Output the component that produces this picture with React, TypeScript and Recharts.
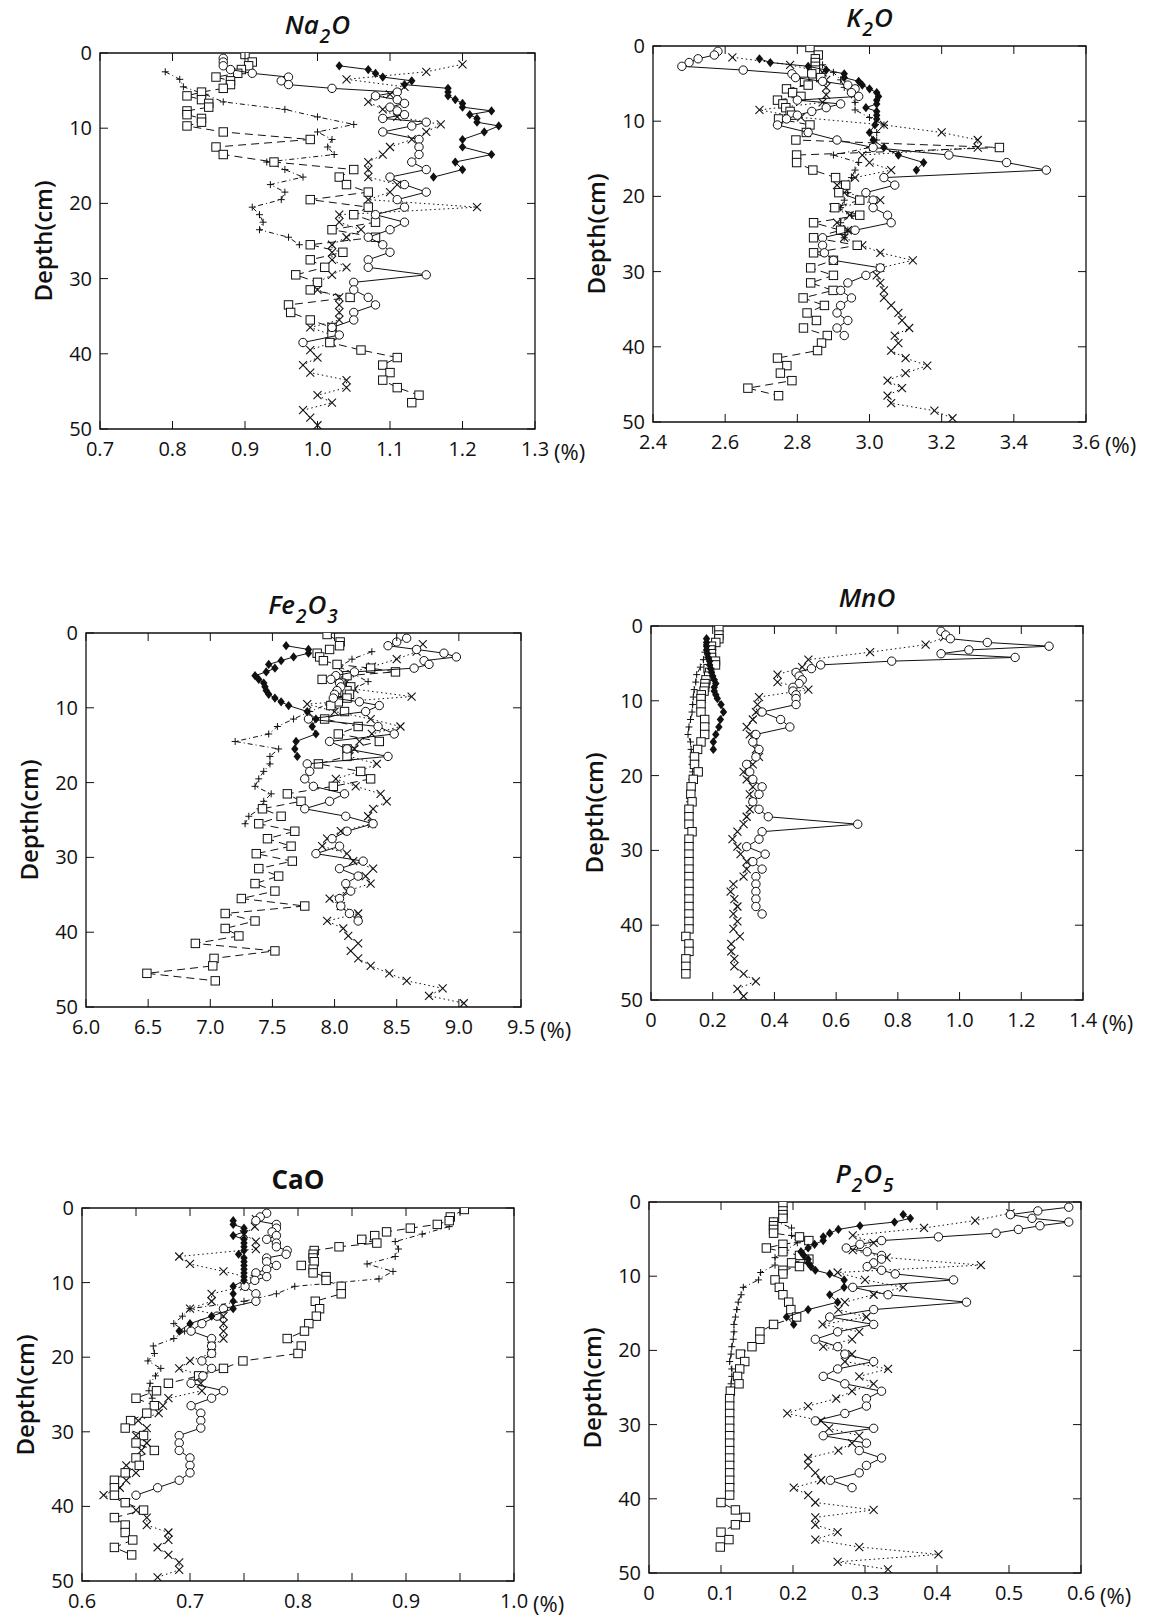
import React from 'react';
import { ScatterChart, Scatter, XAxis, YAxis, ReferenceArea } from 'recharts';

// sampling depths (cm) for the five profiles
const A_DEPTH = [0.7, 1.2, 1.7, 2.2, 2.7, 3.2, 3.7, 4.2, 4.7, 5.2, 5.7, 6.2, 6.7, 7.2, 7.7, 8.2, 8.7, 9.2, 9.7,
  10.5, 11.5, 12.5, 13.5, 14.5, 15.5, 16.5, 17.5, 18.5, 19.5, 20.5, 21.5, 22.5, 23.5, 24.5, 25.5, 26.5, 27.5, 28.5, 29.5,
  30.5, 31.5, 32.5, 33.5, 34.5, 35.5, 36.5, 37.5, 38.5];
const B_DEPTH = [1.7, 2.2, 2.7, 3.2, 3.7, 4.2, 4.7, 5.2, 5.7, 6.2, 6.7, 7.2, 7.7, 8.2, 8.7, 9.2, 9.7,
  10.5, 11.5, 12.5, 13.5, 14.5, 15.5, 16.5];
const C_DEPTH = [0.2, 1.2, 1.7, 2.2, 2.7, 3.2, 3.7, 4.2, 4.7, 5.2, 5.7, 6.2, 6.7, 7.2, 7.7, 8.2, 8.7, 9.2, 9.7,
  10.5, 11.5, 12.5, 13.5, 14.5, 15.5, 16.5, 17.5, 18.5, 19.5, 20.5, 21.5, 22.5, 23.5, 24.5, 25.5, 26.5, 27.5, 28.5, 29.5,
  30.5, 31.5, 32.5, 33.5, 34.5, 35.5, 36.5, 37.5, 38.5, 39.5, 40.5, 41.5, 42.5, 43.5, 44.5, 45.5, 46.5];
const D_DEPTH = [1.5, 2.5, 3.5, 4.5, 5.5, 6.5, 7.5, 8.5, 9.5, 10.5, 11.5, 12.5, 13.5, 14.5, 15.5, 16.5, 17.5, 18.5, 19.5,
  20.5, 21.5, 22.5, 23.5, 24.5, 25.5, 26.5, 27.5, 28.5, 29.5, 30.5, 31.5, 32.5, 33.5, 34.5, 35.5, 36.5, 37.5, 38.5, 39.5,
  40.5, 41.5, 42.5, 43.5, 44.5, 45.5, 46.5, 47.5, 48.5, 49.5];
const E_DEPTH = [2.5, 3.5, 4.5, 5.5, 6.5, 7.5, 8.5, 9.5, 10.5, 11.5, 12.5, 13.5, 14.5, 15.5, 16.5, 17.5, 18.5, 19.5,
  20.5, 21.5, 22.5, 23.5, 24.5, 25.5];

const DEPTH_TICKS = [0, 10, 20, 30, 40, 50];

// Na2O (%)
const NA2O_A = [0.87, 0.87, 0.87, 0.88, 0.91, 0.96, 0.95, 0.96, 1.02, 1.11, 1.08, 1.11, 1.12, 1.10, 1.11, 1.12, 1.09, 1.15, 1.13,
  1.09, 1.14, 1.14, 1.14, 1.13, 1.15, 1.10, 1.12, 1.15, 1.11, 1.12, 1.08, 1.12, 1.10, 1.07, 1.09, 1.10, 1.07, 1.07, 1.15,
  1.05, 1.05, 1.07, 1.08, 1.05, 1.05, 1.02, 1.03, 0.98];
const NA2O_B = [1.03, 1.07, 1.08, 1.09, 1.13, 1.12, 1.18, 1.18, 1.18, 1.19, 1.20, 1.20, 1.24, 1.21, 1.22, 1.22, 1.25,
  1.23, 1.20, 1.20, 1.24, 1.19, 1.20, 1.16];
const NA2O_C = [0.90, 0.91, 0.905, 0.895, 0.89, 0.86, 0.88, 0.88, 0.87, 0.84, 0.82, 0.84, 0.85, 0.85, 0.82, 0.82, 0.84, 0.84, 0.82,
  0.87, 0.99, 0.86, 0.87, 0.94, 1.05, 1.03, 1.04, 1.07, 0.99, 1.07, 1.05, 1.08, 1.02, 1.08, 0.99, 1.035, 0.99, 1.01, 0.97,
  1.00, 0.99, 1.045, 0.96, 0.963, 0.99, 1.02, 1.02, 1.017, 1.06, 1.11, 1.09, 1.10, 1.09, 1.11, 1.14, 1.13];
const NA2O_D = [1.20, 1.15, 1.04, 1.12, 1.10, 1.07, 1.09, 1.11, 1.17, 1.15, 1.13, 1.10, 1.09, 1.07, 1.07, 1.07, 1.11, 1.10, 1.07,
  1.22, 1.03, 1.03, 1.06, 1.04, 1.02, 1.02, 1.02, 1.04, 1.02, 1.00, 1.00, 1.03, 1.03, 1.03, 1.03, 0.99, 1.02, 1.02, 0.99,
  1.00, 0.98, 0.99, 1.04, 1.04, 1.00, 1.02, 0.98, 0.99, 1.00];
const NA2O_E = [0.79, 0.81, 0.815, 0.845, 0.87, 0.955, 1.00, 1.05, 1.00, 1.02, 1.014, 1.023, 0.93, 0.955, 0.98, 0.935, 0.955, 0.95,
  0.91, 0.92, 0.925, 0.92, 0.96, 0.975];

// K2O (%)
const K2O_A = [2.58, 2.57, 2.525, 2.50, 2.48, 2.65, 2.785, 2.795, 2.87, 2.94, 2.96, 2.95, 2.97, 2.80, 2.92, 2.88, 2.84, 2.80, 2.77,
  2.745, 2.83, 2.91, 3.01, 3.22, 3.38, 3.49, 3.04, 3.07, 2.99, 3.01, 3.01, 3.05, 3.06, 2.96, 2.87, 2.87, 2.875, 2.90, 3.03,
  2.99, 2.94, 2.92, 2.95, 2.92, 2.91, 2.94, 2.91, 2.93];
const K2O_B = [2.695, 2.725, 2.83, 2.88, 2.93, 2.93, 2.97, 2.98, 3.00, 3.02, 3.025, 3.02, 3.02, 2.99, 3.02, 3.02, 3.02,
  3.015, 3.00, 3.01, 3.04, 3.08, 3.15, 3.13];
const K2O_C = [2.835, 2.858, 2.85, 2.85, 2.85, 2.85, 2.84, 2.865, 2.82, 2.83, 2.77, 2.787, 2.81, 2.745, 2.76, 2.768, 2.78, 2.784, 2.748,
  2.835, 2.825, 2.796, 3.36, 2.798, 2.798, 2.843, 2.906, 2.934, 2.915, 2.973, 2.904, 2.973, 2.845, 2.92, 2.845, 2.966, 2.845, 2.90, 2.837,
  2.90, 2.837, 2.899, 2.816, 2.875, 2.827, 2.853, 2.817, 2.883, 2.867, 2.856, 2.745, 2.771, 2.753, 2.785, 2.663, 2.748];
const K2O_D = [2.62, 2.78, 2.87, 2.88, 2.88, 2.88, 2.87, 2.695, 2.81, 3.04, 3.20, 3.30, 3.30, 2.98, 3.00, 3.06, 2.96, 2.91, 2.93,
  3.03, 2.90, 2.945, 2.91, 2.94, 2.93, 2.98, 3.03, 3.12, 3.03, 3.02, 3.03, 3.04, 3.04, 3.06, 3.08, 3.09, 3.11, 3.07, 3.08,
  3.06, 3.10, 3.16, 3.10, 3.05, 3.09, 3.05, 3.06, 3.18, 3.23];
const K2O_E = [2.87, 2.90, 2.92, 2.93, 2.95, 2.96, 2.96, 3.00, 3.04, 3.02, 3.02, 3.00, 2.90, 2.97, 2.96, 2.95, 2.93, 2.94,
  2.93, 2.92, 2.95, 2.92, 2.94, 2.93];

// Fe2O3 (%)
const FE_A = [8.58, 8.50, 8.43, 8.66, 8.88, 8.98, 8.72, 8.76, 8.64, 8.16, 8.01, 7.97, 8.04, 8.05, 8.02, 8.00, 7.99, 8.20, 8.36,
  8.25, 7.79, 8.35, 8.48, 7.96, 8.10, 8.43, 7.78, 7.80, 7.76, 7.83, 8.08, 7.96, 7.76, 8.09, 8.31, 8.10, 7.98, 8.04, 7.85,
  8.23, 8.04, 8.19, 8.09, 8.13, 8.04, 8.05, 8.12, 8.19];
const FE_B = [7.61, 7.79, 7.79, 7.67, 7.57, 7.47, 7.52, 7.45, 7.36, 7.39, 7.43, 7.44, 7.45, 7.47, 7.52, 7.57, 7.63,
  7.78, 7.85, 7.82, 7.85, 7.69, 7.68, 7.70];
const FE_C = [7.94, 8.045, 8.04, 7.96, 7.86, 7.88, 7.91, 8.02, 8.29, 8.49, 8.10, 7.90, 8.05, 8.13, 8.10, 8.12, 8.10, 8.03, 7.97,
  8.08, 7.92, 8.19, 8.03, 8.36, 8.10, 8.10, 7.87, 8.21, 8.29, 7.99, 7.62, 7.73, 7.42, 7.57, 7.39, 7.68, 7.46, 7.65, 7.37,
  7.66, 7.39, 7.55, 7.36, 7.52, 7.25, 7.76, 7.12, 7.36, 7.12, 7.23, 6.88, 7.52, 7.03, 7.02, 6.49, 7.04];
const FE_D = [8.71, 8.66, 8.50, 8.30, 8.08, 8.10, 8.16, 8.62, 7.78, 8.00, 8.29, 8.53, 8.30, 8.20, 8.16, 8.12, 8.34, 8.20, 8.01,
  8.17, 8.37, 8.42, 8.31, 8.27, 8.30, 8.05, 7.94, 7.90, 8.10, 8.15, 8.31, 8.25, 8.29, 8.10, 7.96, 8.05, 8.19, 7.94, 8.07,
  8.11, 8.19, 8.13, 8.19, 8.29, 8.44, 8.58, 8.87, 8.76, 9.04];
const FE_E = [8.30, 8.14, 8.04, 8.15, 8.27, 8.15, 8.05, 7.95, 7.80, 7.67, 7.54, 7.47, 7.20, 7.55, 7.48, 7.48, 7.43, 7.39,
  7.36, 7.49, 7.43, 7.40, 7.31, 7.28];

// MnO (%)
const MN_A = [0.94, 0.955, 0.97, 1.09, 1.29, 1.03, 0.94, 1.18, 0.78, 0.55, 0.52, 0.47, 0.48, 0.49, 0.48, 0.46, 0.46, 0.47, 0.47,
  0.47, 0.36, 0.42, 0.45, 0.34, 0.33, 0.35, 0.34, 0.31, 0.32, 0.33, 0.36, 0.35, 0.33, 0.35, 0.38, 0.67, 0.36, 0.35, 0.31,
  0.37, 0.33, 0.36, 0.34, 0.34, 0.34, 0.34, 0.34, 0.36];
const MN_B = [0.18, 0.18, 0.18, 0.18, 0.183, 0.185, 0.19, 0.19, 0.193, 0.196, 0.20, 0.205, 0.21, 0.205, 0.205, 0.21, 0.215,
  0.227, 0.235, 0.225, 0.22, 0.21, 0.202, 0.202];
const MN_C = [0.22, 0.22, 0.22, 0.21, 0.196, 0.194, 0.196, 0.196, 0.209, 0.209, 0.185, 0.19, 0.187, 0.178, 0.175, 0.174, 0.172, 0.163, 0.162,
  0.162, 0.162, 0.174, 0.174, 0.174, 0.162, 0.151, 0.141, 0.141, 0.153, 0.137, 0.13, 0.129, 0.133, 0.123, 0.123, 0.123, 0.133, 0.123, 0.123,
  0.123, 0.123, 0.123, 0.123, 0.123, 0.123, 0.123, 0.123, 0.123, 0.123, 0.123, 0.113, 0.123, 0.123, 0.113, 0.113, 0.113];
const MN_D = [0.95, 0.89, 0.71, 0.51, 0.49, 0.41, 0.41, 0.51, 0.35, 0.345, 0.34, 0.33, 0.31, 0.32, 0.335, 0.34, 0.35, 0.33, 0.30,
  0.31, 0.33, 0.32, 0.33, 0.32, 0.31, 0.30, 0.28, 0.264, 0.28, 0.29, 0.31, 0.31, 0.30, 0.267, 0.258, 0.27, 0.28, 0.267, 0.28,
  0.267, 0.288, 0.26, 0.26, 0.27, 0.27, 0.30, 0.34, 0.28, 0.30];
const MN_E = [0.18, 0.175, 0.17, 0.16, 0.148, 0.145, 0.14, 0.137, 0.135, 0.133, 0.128, 0.123, 0.12, 0.128, 0.13, 0.133, 0.133, 0.135,
  0.132, 0.129, 0.127, 0.125, 0.124, 0.123];

// CaO (%)
const CA_A = [0.771, 0.765, 0.761, 0.78, 0.78, 0.776, 0.78, 0.771, 0.78, 0.78, 0.79, 0.789, 0.771, 0.771, 0.78, 0.771, 0.761, 0.771, 0.76,
  0.751, 0.761, 0.761, 0.731, 0.725, 0.711, 0.701, 0.72, 0.72, 0.72, 0.711, 0.72, 0.712, 0.701, 0.731, 0.72, 0.701, 0.71, 0.71, 0.71,
  0.69, 0.69, 0.69, 0.70, 0.70, 0.70, 0.69, 0.67, 0.65];
const CA_B = [0.74, 0.74, 0.75, 0.75, 0.74, 0.75, 0.75, 0.75, 0.75, 0.745, 0.75, 0.75, 0.75, 0.75, 0.75, 0.75, 0.75,
  0.74, 0.74, 0.74, 0.74, 0.72, 0.70, 0.69];
const CA_C = [0.954, 0.941, 0.94, 0.929, 0.904, 0.882, 0.871, 0.859, 0.873, 0.838, 0.815, 0.814, 0.814, 0.815, 0.803, 0.814, 0.814, 0.826, 0.826,
  0.84, 0.84, 0.816, 0.82, 0.817, 0.81, 0.806, 0.79, 0.803, 0.80, 0.749, 0.731, 0.708, 0.68, 0.669, 0.65, 0.667, 0.66, 0.645, 0.64,
  0.657, 0.65, 0.667, 0.65, 0.653, 0.64, 0.63, 0.63, 0.63, 0.64, 0.657, 0.63, 0.64, 0.64, 0.647, 0.63, 0.646];
const CA_D = [0.761, 0.76, 0.75, 0.761, 0.761, 0.69, 0.70, 0.731, 0.76, 0.75, 0.72, 0.72, 0.70, 0.731, 0.731, 0.731, 0.731, 0.72, 0.72,
  0.70, 0.69, 0.711, 0.71, 0.711, 0.68, 0.675, 0.671, 0.652, 0.66, 0.65, 0.66, 0.655, 0.65, 0.641, 0.65, 0.641, 0.635, 0.62, 0.641,
  0.65, 0.66, 0.66, 0.68, 0.68, 0.67, 0.68, 0.69, 0.69, 0.67];
const CA_E = [0.94, 0.915, 0.89, 0.893, 0.89, 0.864, 0.888, 0.875, 0.797, 0.78, 0.75, 0.70, 0.693, 0.685, 0.695, 0.685, 0.666, 0.667,
  0.661, 0.673, 0.668, 0.663, 0.662, 0.665];

// P2O5 (%)
const P_A = [0.583, 0.54, 0.502, 0.532, 0.583, 0.543, 0.513, 0.482, 0.402, 0.323, 0.293, 0.274, 0.303, 0.323, 0.323, 0.312, 0.303, 0.323, 0.342,
  0.423, 0.283, 0.332, 0.441, 0.312, 0.251, 0.312, 0.262, 0.231, 0.262, 0.272, 0.312, 0.262, 0.242, 0.272, 0.323, 0.302, 0.302, 0.272, 0.231,
  0.312, 0.242, 0.302, 0.292, 0.323, 0.302, 0.292, 0.252, 0.282];
const P_B = [0.353, 0.363, 0.341, 0.293, 0.263, 0.251, 0.242, 0.242, 0.23, 0.221, 0.211, 0.215, 0.221, 0.221, 0.225, 0.231, 0.251,
  0.271, 0.271, 0.251, 0.262, 0.221, 0.191, 0.201];
const P_C = [0.186, 0.186, 0.186, 0.186, 0.173, 0.173, 0.173, 0.173, 0.209, 0.222, 0.186, 0.163, 0.186, 0.209, 0.222, 0.198, 0.209, 0.186, 0.186,
  0.175, 0.181, 0.186, 0.194, 0.197, 0.205, 0.173, 0.154, 0.154, 0.143, 0.127, 0.133, 0.126, 0.123, 0.125, 0.113, 0.112, 0.112, 0.112, 0.112,
  0.112, 0.112, 0.112, 0.112, 0.112, 0.112, 0.112, 0.112, 0.112, 0.112, 0.10, 0.12, 0.134, 0.12, 0.10, 0.111, 0.099];
const P_D = [0.502, 0.453, 0.382, 0.283, 0.312, 0.283, 0.33, 0.461, 0.262, 0.30, 0.353, 0.312, 0.272, 0.263, 0.302, 0.241, 0.292, 0.282, 0.242,
  0.282, 0.272, 0.332, 0.292, 0.312, 0.282, 0.26, 0.221, 0.192, 0.239, 0.25, 0.292, 0.282, 0.263, 0.221, 0.221, 0.231, 0.239, 0.201, 0.221,
  0.231, 0.312, 0.231, 0.231, 0.262, 0.231, 0.292, 0.402, 0.262, 0.332];
const P_E = [0.173, 0.198, 0.198, 0.206, 0.19, 0.175, 0.175, 0.155, 0.152, 0.131, 0.128, 0.124, 0.122, 0.12, 0.118, 0.118, 0.117, 0.115,
  0.114, 0.112, 0.115, 0.115, 0.114, 0.112];

// x-axis ticks
const NA2O_TICKS = [0.7, 0.8, 0.9, 1.0, 1.1, 1.2, 1.3];
const K2O_TICKS = [2.4, 2.6, 2.8, 3.0, 3.2, 3.4, 3.6];
const FE_TICKS = [6.0, 6.5, 7.0, 7.5, 8.0, 8.5, 9.0, 9.5];
const MN_TICKS = [0, 0.2, 0.4, 0.6, 0.8, 1.0, 1.2, 1.4];
const CA_TICKS = [0.6, 0.65, 0.7, 0.75, 0.8, 0.85, 0.9, 0.95, 1.0];
const CA_LABELS = [0.6, 0.7, 0.8, 0.9, 1.0];
const P_TICKS = [0, 0.1, 0.2, 0.3, 0.4, 0.5, 0.6];

const FONT = '"Open Sans", "DejaVu Sans", sans-serif';
const INK = '#111';
const TICK_LEN = 8;
const ML = 90, MT = 20, MR = 80, MB = 50;
const Y_W = 50, X_H = 30;

type Mark = 'circle' | 'diamond' | 'square' | 'cross' | 'plus';

function Marker({ cx, cy, mark }: { cx: number; cy: number; mark: Mark }) {
  if (cx == null || cy == null) return null;
  switch (mark) {
    case 'circle':
      return <circle cx={cx} cy={cy} r={4.2} fill="#fff" stroke={INK} strokeWidth={1} />;
    case 'diamond':
      return <polygon points={`${cx},${cy - 4.6} ${cx + 3.7},${cy} ${cx},${cy + 4.6} ${cx - 3.7},${cy}`} fill={INK} />;
    case 'square':
      return <rect x={cx - 4.2} y={cy - 4.2} width={8.4} height={8.4} fill="#fff" stroke={INK} strokeWidth={1} />;
    case 'cross':
      return (
        <g stroke={INK} strokeWidth={1.1}>
          <line x1={cx - 4} y1={cy - 4} x2={cx + 4} y2={cy + 4} />
          <line x1={cx - 4} y1={cy + 4} x2={cx + 4} y2={cy - 4} />
        </g>
      );
    default:
      return (
        <g stroke={INK} strokeWidth={1}>
          <line x1={cx - 3.5} y1={cy} x2={cx + 3.5} y2={cy} />
          <line x1={cx} y1={cy - 3.5} x2={cx} y2={cy + 3.5} />
        </g>
      );
  }
}

const fmtTick = (v: number) => (v === 0 ? '0' : v.toFixed(1));

interface PanelProps {
  title: React.ReactNode;
  italic?: boolean;
  left: number;
  top: number;
  w: number;
  h: number;
  ticks: number[];
  labels?: number[];
  series: { a: number[]; b: number[]; c: number[]; d: number[]; e: number[] };
}

function Panel({ title, italic = true, left, top, w, h, ticks, labels, series }: PanelProps) {
  const domain: [number, number] = [ticks[0], ticks[ticks.length - 1]];
  const shown = labels ?? ticks;
  const rows = (depth: number[], vals: number[]) => depth.map((d, i) => ({ x: vals[i], y: d }));

  const profiles: { key: string; pts: { x: number; y: number }[]; mark: Mark; dash?: string }[] = [
    { key: 'e', pts: rows(E_DEPTH, series.e), mark: 'plus', dash: '5 3 1 3' },
    { key: 'd', pts: rows(D_DEPTH, series.d), mark: 'cross', dash: '1.5 3' },
    { key: 'c', pts: rows(C_DEPTH, series.c), mark: 'square', dash: '8 5' },
    { key: 'a', pts: rows(A_DEPTH, series.a), mark: 'circle' },
    { key: 'b', pts: rows(B_DEPTH, series.b), mark: 'diamond' },
  ];

  const xTick = (p: any) => {
    const { x, y, payload } = p;
    const v = payload.value as number;
    const lab = shown.some((s) => Math.abs(s - v) < 1e-9);
    return (
      <g>
        <line x1={x} y1={y} x2={x} y2={y - TICK_LEN} stroke={INK} strokeWidth={1} />
        <line x1={x} y1={y - h} x2={x} y2={y - h + TICK_LEN} stroke={INK} strokeWidth={1} />
        {lab && (
          <text x={x} y={y + 27} textAnchor="middle" fontSize={20} fontFamily={FONT} fill={INK}>
            {fmtTick(v)}
          </text>
        )}
      </g>
    );
  };

  const yTick = (p: any) => {
    const { x, y, payload } = p;
    return (
      <g>
        <line x1={x} y1={y} x2={x + TICK_LEN} y2={y} stroke={INK} strokeWidth={1} />
        <line x1={x + w} y1={y} x2={x + w - TICK_LEN} y2={y} stroke={INK} strokeWidth={1} />
        <text x={x - 8} y={y + 7} textAnchor="end" fontSize={20} fontFamily={FONT} fill={INK}>
          {payload.value}
        </text>
      </g>
    );
  };

  return (
    <>
      <div
        style={{
          position: 'absolute', left, top: top - 44, width: w, textAlign: 'center',
          fontFamily: FONT, fontSize: 26, fontStyle: italic ? 'italic' : 'normal',
          fontWeight: italic ? 600 : 700, lineHeight: '30px', color: INK, whiteSpace: 'nowrap',
        }}
      >
        {title}
      </div>
      <div
        style={{
          position: 'absolute', left: left - 57 - 80, top: top + h / 2 - 15, width: 160, height: 30,
          textAlign: 'center', transform: 'rotate(-90deg)', fontFamily: FONT, fontSize: 24,
          fontWeight: 600, lineHeight: '30px', color: INK, whiteSpace: 'nowrap',
        }}
      >
        Depth(cm)
      </div>
      <div
        style={{
          position: 'absolute', left: left + w + 19, top: top + h + 8, fontFamily: FONT,
          fontSize: 22, lineHeight: '28px', color: INK, whiteSpace: 'nowrap',
        }}
      >
        (%)
      </div>
      <div style={{ position: 'absolute', left: left - ML, top: top - MT }}>
        <ScatterChart
          width={w + ML + MR}
          height={h + MT + MB}
          margin={{ top: MT, right: MR, bottom: MB - X_H, left: ML - Y_W }}
        >
          <XAxis
            type="number"
            dataKey="x"
            domain={domain}
            ticks={ticks}
            interval={0}
            allowDataOverflow
            axisLine={false}
            tickLine={false}
            tickSize={0}
            tickMargin={0}
            height={X_H}
            tick={xTick}
          />
          <YAxis
            type="number"
            dataKey="y"
            domain={[0, 50]}
            ticks={DEPTH_TICKS}
            interval={0}
            reversed
            allowDataOverflow
            axisLine={false}
            tickLine={false}
            tickSize={0}
            tickMargin={0}
            width={Y_W}
            tick={yTick}
          />
          <ReferenceArea x1={domain[0]} x2={domain[1]} y1={0} y2={50} fill="none" stroke={INK} strokeWidth={1.3} />
          {profiles.map((s) => (
            <Scatter
              key={s.key}
              data={s.pts}
              isAnimationActive={false}
              line={{ stroke: INK, strokeWidth: 1, strokeDasharray: s.dash }}
              lineType="joint"
              shape={(p: any) => <Marker cx={p.cx} cy={p.cy} mark={s.mark} />}
            />
          ))}
        </ScatterChart>
      </div>
    </>
  );
}

const Sub = ({ children }: { children: React.ReactNode }) => (
  <span style={{ fontSize: 19, position: 'relative', top: 9, margin: '0 1px' }}>{children}</span>
);

export default function App() {
  return (
    <div style={{ position: 'absolute', left: 0, top: 0, width: 1154, height: 1620, background: '#fff' }}>
      <Panel
        title={<>Na<Sub>2</Sub>O</>}
        left={100} top={53} w={435} h={376}
        ticks={NA2O_TICKS}
        series={{ a: NA2O_A, b: NA2O_B, c: NA2O_C, d: NA2O_D, e: NA2O_E }}
      />
      <Panel
        title={<>K<Sub>2</Sub>O</>}
        left={653} top={46} w={433} h={376}
        ticks={K2O_TICKS}
        series={{ a: K2O_A, b: K2O_B, c: K2O_C, d: K2O_D, e: K2O_E }}
      />
      <Panel
        title={<>Fe<Sub>2</Sub>O<Sub>3</Sub></>}
        left={86} top={633} w={435} h={374}
        ticks={FE_TICKS}
        series={{ a: FE_A, b: FE_B, c: FE_C, d: FE_D, e: FE_E }}
      />
      <Panel
        title={<>MnO</>}
        left={651} top={626} w={432} h={374}
        ticks={MN_TICKS}
        series={{ a: MN_A, b: MN_B, c: MN_C, d: MN_D, e: MN_E }}
      />
      <Panel
        title={<>CaO</>}
        italic={false}
        left={82} top={1208} w={432} h={373}
        ticks={CA_TICKS}
        labels={CA_LABELS}
        series={{ a: CA_A, b: CA_B, c: CA_C, d: CA_D, e: CA_E }}
      />
      <Panel
        title={<>P<Sub>2</Sub>O<Sub>5</Sub></>}
        left={649} top={1202} w={432} h={371}
        ticks={P_TICKS}
        series={{ a: P_A, b: P_B, c: P_C, d: P_D, e: P_E }}
      />
    </div>
  );
}
